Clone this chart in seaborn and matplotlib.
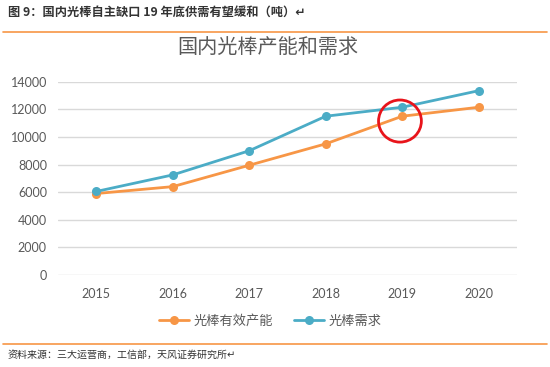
import matplotlib
matplotlib.use("Agg")
import matplotlib.pyplot as plt
from matplotlib.patches import Ellipse
from matplotlib.lines import Line2D
import seaborn as sns
import pandas as pd

# data (tonnes)
years = ["2015", "2016", "2017", "2018", "2019", "2020"]
capacity = [5900, 6400, 7950, 9500, 11500, 12150]   # 光棒有效产能
demand = [6050, 7250, 9000, 11500, 12150, 13350]    # 光棒需求
series_names = ["光棒有效产能", "光棒需求"]
yticks = [0, 2000, 4000, 6000, 8000, 10000, 12000, 14000]

orange = "#F79646"
blue = "#4BACC6"
grey = "#595959"

sns.set_theme(style="white")
plt.rcParams['font.family'] = ['Noto Sans CJK SC', 'DejaVu Sans']

df = pd.DataFrame({
    "year": years * 2,
    "value": capacity + demand,
    "series": [series_names[0]] * len(years) + [series_names[1]] * len(years),
})

fig = plt.figure(figsize=(5.5, 3.67), dpi=100)
ax = fig.add_axes([58 / 550, 1 - 275 / 367, (517 - 58) / 550, (275 - 81.7) / 367])

sns.lineplot(data=df, x="year", y="value", hue="series",
             palette=[orange, blue], marker="o", markersize=6.5,
             markeredgewidth=0, linewidth=2.0, sort=False, ax=ax, legend=False)

ax.set_xlim(-0.5, len(years) - 0.5)
ax.set_ylim(0, 14000)
ax.set_yticks(yticks)
ax.set_yticklabels([str(v) for v in yticks])
ax.set_xlabel("")
ax.set_ylabel("")
ax.yaxis.grid(True, color="#D9D9D9", linewidth=1.0)
ax.xaxis.grid(False)
for s in ax.spines.values():
    s.set_visible(False)
ax.tick_params(axis="both", length=0, labelsize=9, labelcolor=grey)
ax.tick_params(axis="y", pad=8)
ax.tick_params(axis="x", pad=9)
for lab in ax.get_xticklabels() + ax.get_yticklabels():
    lab.set_family(['Lato', 'DejaVu Sans'])

# red circle highlighting 2019
idx = years.index("2019")
ax.add_patch(Ellipse((idx - 0.03, capacity[idx] - 350), 0.56, 3050,
                     fill=False, edgecolor="#E8141B", linewidth=2.0, zorder=5))

# chart title
fig.text(268 / 550, 1 - 47 / 367, "国内光棒产能和需求", ha="center", va="center",
         fontsize=14.5, color=grey)

# legend
handles = [Line2D([], [], color=orange, marker="o", markersize=6.5, markeredgewidth=0, linewidth=2.0),
           Line2D([], [], color=blue, marker="o", markersize=6.5, markeredgewidth=0, linewidth=2.0)]
ax.legend(handles, series_names, ncol=2, frameon=False, loc="center",
          bbox_to_anchor=(270 / 550, 1 - 321 / 367), bbox_transform=fig.transFigure,
          fontsize=9.5, labelcolor=grey, handlelength=2.3, handletextpad=0.3,
          columnspacing=1.6)

# header, rules and source
fig.text(8 / 550, 1 - 12 / 367, "图 9：国内光棒自主缺口 19 年底供需有望缓和（吨）↵",
         ha="left", va="center", fontsize=8.8, fontweight="bold", color="#333333")
fig.add_artist(Line2D([3 / 550, 547 / 550], [1 - 31.5 / 367] * 2, color=orange,
                      linewidth=1.2, transform=fig.transFigure))
fig.add_artist(Line2D([3 / 550, 547 / 550], [1 - 344 / 367] * 2, color=orange,
                      linewidth=1.2, transform=fig.transFigure))
fig.text(8 / 550, 1 - 355 / 367, "资料来源：三大运营商，工信部，天风证券研究所↵",
         ha="left", va="center", fontsize=7.2, color="#333333")

fig.savefig("out.png", dpi=100)
